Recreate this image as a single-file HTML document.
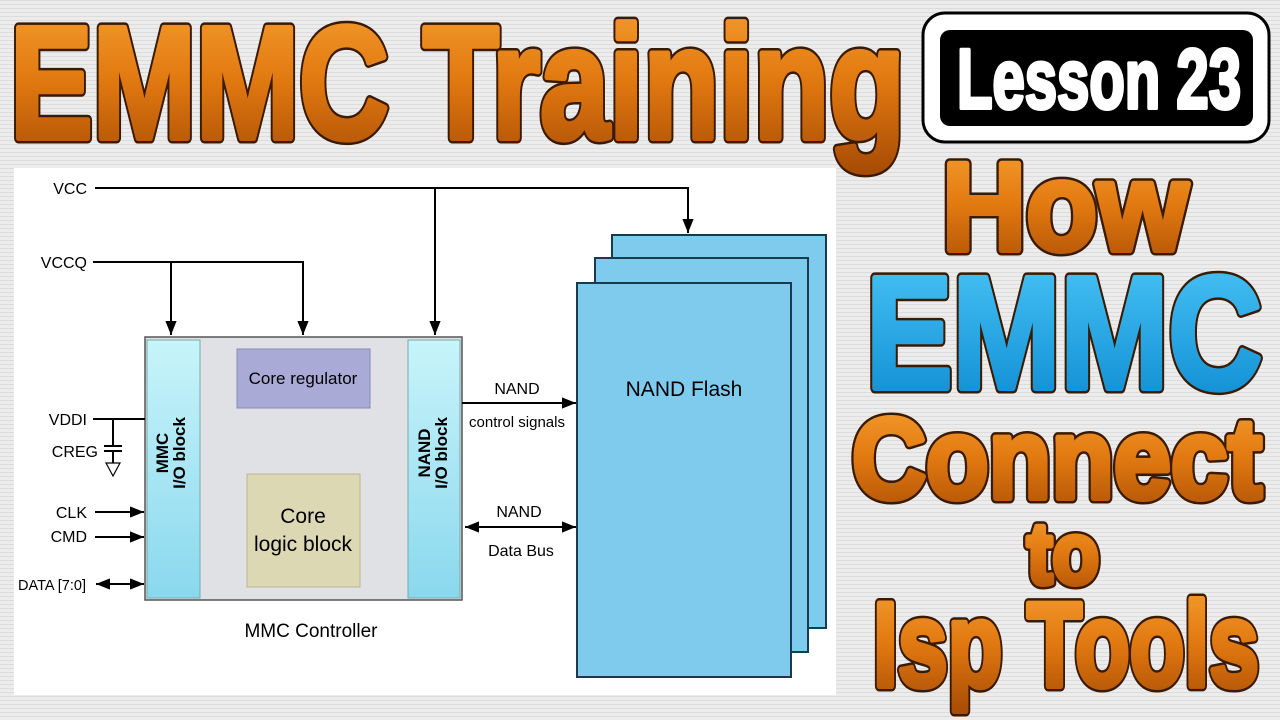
<!DOCTYPE html>
<html><head><meta charset="utf-8"><style>
html,body{margin:0;padding:0;width:1280px;height:720px;overflow:hidden;background:#e9e9e9}
svg{display:block}
</style></head><body>
<svg width="1280" height="720" viewBox="0 0 1280 720" xmlns="http://www.w3.org/2000/svg">
<defs>
<pattern id="st" width="4" height="4" patternUnits="userSpaceOnUse"><rect width="4" height="4" fill="#ececec"/><rect width="4" height="1" fill="#dcdcdc"/></pattern>
<linearGradient id="og" x1="0" y1="0" x2="0" y2="1"><stop offset="0" stop-color="#f7a030"/><stop offset="0.5" stop-color="#e07810"/><stop offset="1" stop-color="#a84c05"/></linearGradient>
<linearGradient id="bg" x1="0" y1="0" x2="0" y2="1"><stop offset="0" stop-color="#4cc8f8"/><stop offset="1" stop-color="#0a88d0"/></linearGradient>
<linearGradient id="cy" x1="0" y1="0" x2="0" y2="1"><stop offset="0" stop-color="#c8f4fa"/><stop offset="1" stop-color="#8ad8ee"/></linearGradient>
<marker id="a" viewBox="0 0 10 10" refX="10" refY="5" markerWidth="7" markerHeight="7" orient="auto-start-reverse"><path d="M0,1 L10,5 L0,9 z" fill="#000"/></marker>
</defs>
<rect width="1280" height="720" fill="url(#st)"/>
<rect x="14" y="168" width="822" height="527" fill="#fff"/>

<!-- title: outline layer -->
<g font-family="Liberation Sans, sans-serif" font-weight="bold" stroke="#3a1a00" stroke-width="11" stroke-linejoin="round" fill="#3a1a00">
<text x="10" y="138" font-size="160" textLength="895" lengthAdjust="spacingAndGlyphs">EMMC Training</text>
<text x="942" y="250" font-size="125" textLength="246" lengthAdjust="spacingAndGlyphs">How</text>
<text x="866" y="388" font-size="160" textLength="396" lengthAdjust="spacingAndGlyphs">EMMC</text>
<text x="852" y="498" font-size="114" textLength="410" lengthAdjust="spacingAndGlyphs">Connect</text>
<text x="1027" y="583" font-size="86" textLength="72" lengthAdjust="spacingAndGlyphs">to</text>
<text x="873" y="686" font-size="120" textLength="386" lengthAdjust="spacingAndGlyphs">Isp Tools</text>
</g>
<g font-family="Liberation Sans, sans-serif" font-weight="bold" stroke-width="6" stroke-linejoin="round">
<text x="10" y="138" font-size="160" textLength="895" lengthAdjust="spacingAndGlyphs" fill="url(#og)" stroke="url(#og)">EMMC Training</text>
<text x="942" y="250" font-size="125" textLength="246" lengthAdjust="spacingAndGlyphs" fill="url(#og)" stroke="url(#og)">How</text>
<text x="866" y="388" font-size="160" textLength="396" lengthAdjust="spacingAndGlyphs" fill="url(#bg)" stroke="url(#bg)">EMMC</text>
<text x="852" y="498" font-size="114" textLength="410" lengthAdjust="spacingAndGlyphs" fill="url(#og)" stroke="url(#og)">Connect</text>
<text x="1027" y="583" font-size="86" textLength="72" lengthAdjust="spacingAndGlyphs" fill="url(#og)" stroke="url(#og)">to</text>
<text x="873" y="686" font-size="120" textLength="386" lengthAdjust="spacingAndGlyphs" fill="url(#og)" stroke="url(#og)">Isp Tools</text>
</g>
<rect x="923" y="13" width="346" height="129" rx="22" fill="#fff" stroke="#000" stroke-width="3"/>
<rect x="940" y="30" width="313" height="96" rx="10" fill="#000"/>
<text x="957" y="108" font-family="Liberation Sans, sans-serif" font-weight="bold" font-size="84" textLength="284" lengthAdjust="spacingAndGlyphs" fill="#fff" stroke="#fff" stroke-width="4" stroke-linejoin="round">Lesson 23</text>

<!-- diagram -->
<g font-family="Liberation Sans, sans-serif" font-size="16" fill="#000">
<rect x="612" y="235" width="214" height="393" fill="#7fcbee" stroke="#1a3a50" stroke-width="2"/>
<rect x="595" y="258" width="213" height="394" fill="#7fcbee" stroke="#1a3a50" stroke-width="2"/>
<rect x="577" y="283" width="214" height="394" fill="#7fcbee" stroke="#1a3a50" stroke-width="2"/>
<text x="684" y="396" text-anchor="middle" font-size="21">NAND Flash</text>

<rect x="145" y="337" width="317" height="263" fill="#dfe1e4" stroke="#555" stroke-width="1.5"/>
<rect x="147" y="340" width="53" height="258" fill="url(#cy)" stroke="#7aa" stroke-width="1"/>
<rect x="408" y="340" width="52" height="258" fill="url(#cy)" stroke="#7aa" stroke-width="1"/>
<rect x="237" y="349" width="133" height="59" fill="#a9aad6" stroke="#8889b8"/>
<text x="303" y="384" text-anchor="middle" font-size="17">Core regulator</text>
<rect x="247" y="474" width="113" height="113" fill="#dcd8b4" stroke="#bbb690"/>
<text x="303" y="523" text-anchor="middle" font-size="21">Core</text>
<text x="303" y="551" text-anchor="middle" font-size="21">logic block</text>
<g font-weight="bold" font-size="17">
<text transform="translate(168,453) rotate(-90)" text-anchor="middle">MMC</text>
<text transform="translate(185,453) rotate(-90)" text-anchor="middle">I/O block</text>
<text transform="translate(430,453) rotate(-90)" text-anchor="middle">NAND</text>
<text transform="translate(447,453) rotate(-90)" text-anchor="middle">I/O block</text>
</g>
<text x="311" y="637" text-anchor="middle" font-size="19">MMC Controller</text>

<g stroke="#000" stroke-width="2" fill="none">
<polyline points="95,188 688,188 688,233" marker-end="url(#a)"/>
<line x1="435" y1="188" x2="435" y2="335" marker-end="url(#a)"/>
<polyline points="93,262 303,262 303,335" marker-end="url(#a)"/>
<line x1="171" y1="262" x2="171" y2="335" marker-end="url(#a)"/>
<line x1="93" y1="419" x2="145" y2="419"/>
<line x1="113" y1="419" x2="113" y2="446"/>
<line x1="104" y1="446" x2="122" y2="446"/>
<line x1="104" y1="451" x2="122" y2="451"/>
<line x1="113" y1="451" x2="113" y2="463"/>
<path d="M106,463 L120,463 L113,476 z" stroke-width="1.2"/>
<line x1="95" y1="512" x2="144" y2="512" marker-end="url(#a)"/>
<line x1="95" y1="537" x2="144" y2="537" marker-end="url(#a)"/>
<line x1="96" y1="584" x2="144" y2="584" marker-start="url(#a)" marker-end="url(#a)"/>
<line x1="462" y1="403" x2="576" y2="403" marker-end="url(#a)"/>
<line x1="465" y1="527" x2="576" y2="527" marker-start="url(#a)" marker-end="url(#a)"/>
</g>
<text x="87" y="194" text-anchor="end">VCC</text>
<text x="87" y="268" text-anchor="end">VCCQ</text>
<text x="87" y="425" text-anchor="end">VDDI</text>
<text x="98" y="457" text-anchor="end">CREG</text>
<text x="87" y="518" text-anchor="end">CLK</text>
<text x="87" y="542" text-anchor="end">CMD</text>
<text x="86" y="590" text-anchor="end" font-size="15" textLength="68" lengthAdjust="spacingAndGlyphs">DATA [7:0]</text>
<text x="517" y="394" text-anchor="middle">NAND</text>
<text x="517" y="427" text-anchor="middle" font-size="15" textLength="96" lengthAdjust="spacingAndGlyphs">control signals</text>
<text x="519" y="517" text-anchor="middle">NAND</text>
<text x="521" y="556" text-anchor="middle">Data Bus</text>
</g>
</svg>
</body></html>
